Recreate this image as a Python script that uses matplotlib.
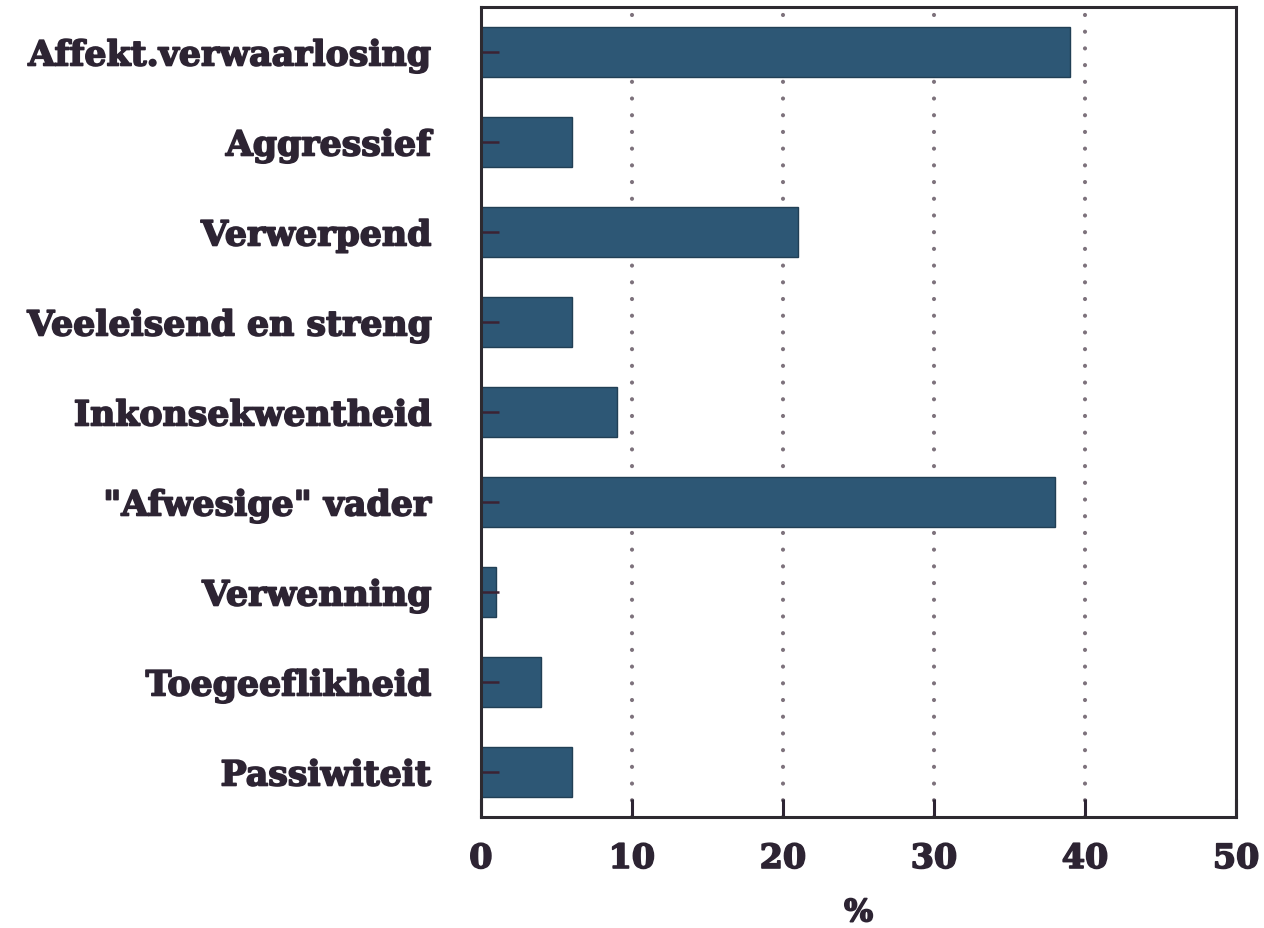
import matplotlib
matplotlib.use("Agg")
import matplotlib.pyplot as plt
import matplotlib.patheffects as pe

categories = [
    "Affekt.verwaarlosing",
    "Aggressief",
    "Verwerpend",
    "Veeleisend en streng",
    "Inkonsekwentheid",
    "\"Afwesige\" vader",
    "Verwenning",
    "Toegeeflikheid",
    "Passiwiteit",
]
percent = [39, 6, 21, 6, 9, 38, 1, 4, 6]
x_ticks = [0, 10, 20, 30, 40, 50]
grid_at = [10, 20, 30, 40]
x_label = "%"

text_color = "#2d2433"
bar_color = "#2d5775"
heavy = [pe.withStroke(linewidth=1.2, foreground=text_color)]

plt.rcParams["font.family"] = ["DejaVu Serif"]
plt.rcParams["font.weight"] = "bold"

fig = plt.figure(figsize=(12.64, 9.29), dpi=100)
ax = fig.add_axes([0.3805, 0.1195, 0.5975, 0.8719])

pos = list(range(len(categories)))
ax.barh(pos, percent, height=0.56, color=bar_color, edgecolor="#213f55",
        linewidth=1.0, zorder=1)

# dotted reference lines, kept behind the bars
for g in grid_at:
    ax.axvline(g, color="#7d727c", linewidth=3.0, linestyle=(0, (0.01, 4.0)),
               dash_capstyle="round", zorder=0.5)

ax.set_xlim(0, 50)
ax.set_ylim(len(categories) - 0.5, -0.5)
ax.set_xticks(x_ticks)
ax.set_xticklabels([str(t) for t in x_ticks], fontsize=24, fontweight="bold",
                   color=text_color)
ax.set_yticks(pos)
ax.set_yticklabels(categories, fontsize=25, fontweight="bold", color=text_color)
for lab in ax.get_yticklabels() + ax.get_xticklabels():
    lab.set_path_effects(heavy)

ax.tick_params(axis="x", direction="in", length=13, width=2.2, color="#2d2433",
               pad=18)
ax.tick_params(axis="y", direction="in", length=13, width=1.8, color="#3b2233",
               pad=36)

for side in ax.spines.values():
    side.set_linewidth(2.2)
    side.set_color("#2d2a30")

xl = ax.set_xlabel(x_label, fontsize=22, fontweight="bold", color=text_color,
                   labelpad=16)
xl.set_path_effects(heavy)

fig.savefig("out.png", dpi=100, facecolor="white")
